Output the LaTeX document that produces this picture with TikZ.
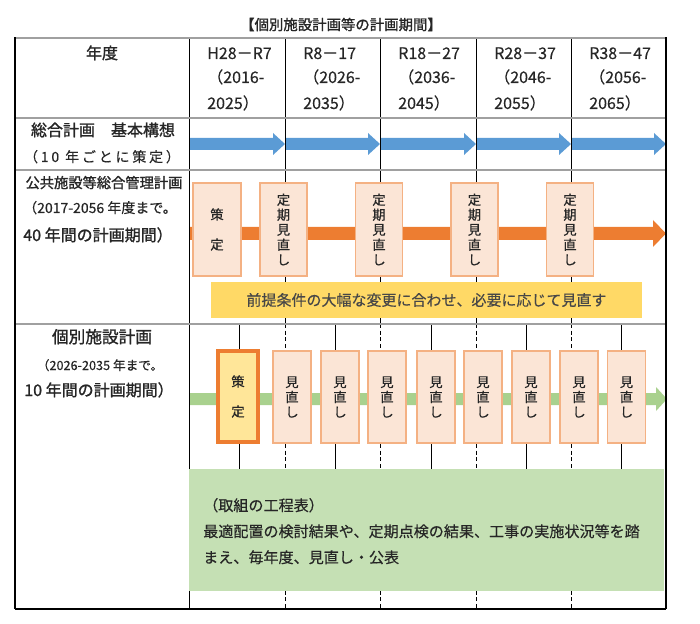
\documentclass[tikz,border=0pt]{standalone}
\usepackage{fontspec}
\setmainfont{Noto Sans CJK JP}[FakeBold=0.4]
\newfontfamily\titlefont{Noto Sans CJK JP}[FakeBold=1.3]
\definecolor{cblue}{HTML}{5B9BD5}
\definecolor{corange}{HTML}{ED7D31}
\definecolor{cgreen}{HTML}{A9D18E}
\definecolor{cgreenbox}{HTML}{C5E0B4}
\definecolor{cyellow}{HTML}{FFD966}
\definecolor{cpeach}{HTML}{FBE5D6}
\definecolor{cpeachline}{HTML}{F4B183}
\definecolor{cgold}{HTML}{FFE699}
\definecolor{ctext}{HTML}{262626}
\definecolor{cgrid}{HTML}{A0A0A0}
\begin{document}
\begin{tikzpicture}[x=0.75pt,y=-0.75pt,
  every node/.style={text=ctext},
  colline/.style={draw=black,line width=0.6pt},
  rowline/.style={draw=cgrid,line width=1.5pt},
  frameline/.style={draw=black,line width=0.9pt},
  peachbox/.style={draw=cpeachline,fill=cpeach,line width=0.8pt,inner sep=0pt,align=center},
  vtext/.style={font=\fontsize{10}{11.25}\selectfont},
  vtextwide/.style={font=\fontsize{10}{22.5}\selectfont},
  hdr/.style={anchor=base west,inner sep=0pt,font=\fontsize{12}{14}\selectfont},
  lefttxt/.style={anchor=base,inner sep=0pt},
  body/.style={anchor=base west,inner sep=0pt,font=\fontsize{11.3}{14}\selectfont}
]
\useasboundingbox (0,0) rectangle (700,624);

% column lines
\draw[colline] (189,38) -- (189,609);
\foreach \x in {285,380,476,571}{
  \draw[colline] (\x,38) -- (\x,324);
  \draw[colline,densely dashed] (\x,324) -- (\x,609);
}
\foreach \x in {239,335,431,526,621}{
  \draw[colline] (\x,324) -- (\x,469);
}

% blue arrows
\foreach \a/\b in {189/285,285/380,380/476,476/571,571/666}{
  \fill[cblue] (\a+1,138) -- (\b-12,138) -- (\b-12,133) -- (\b,144) -- (\b-12,155) -- (\b-12,150) -- (\a+1,150) -- cycle;
}
% orange arrow
\fill[corange] (190,227) -- (653,227) -- (653,220) -- (666,233.5) -- (653,247) -- (653,240) -- (190,240) -- cycle;
% green arrow
\fill[cgreen] (190,393) -- (656,393) -- (656,387) -- (667,399) -- (656,411) -- (656,405) -- (190,405) -- cycle;

% row 3 boxes
\node[peachbox,minimum width=36pt,minimum height=69.75pt,vtextwide] (s3) at (217,229.5) {策\\定};
\foreach \x/\n in {283.5/a,379/b,474.5/c,570/d}{
  \node[peachbox,minimum width=35.25pt,minimum height=69.75pt,vtext] (r3\n) at (\x,229.5) {定\\期\\見\\直\\し};
}
\node[fill=cyellow,minimum width=323.25pt,minimum height=27pt,inner sep=0pt,
  font=\fontsize{11.25}{14}\selectfont,text=ctext!85] (ybar) at (426.5,300)
  {前提条件の大幅な変更に合わせ、必要に応じて見直す};

% row 4 boxes
\node[draw=corange,fill=cgold,line width=3pt,minimum width=30pt,minimum height=68.25pt,inner sep=0pt,align=center,vtextwide] (s4) at (238,396.5) {策\\定};
\foreach \x/\n in {292/a,340/b,387/c,436/d,483/e,531/f,579/g,626.5/h}{
  \node[peachbox,minimum width=28.5pt,minimum height=69pt,vtext] (r4\n) at (\x,397) {見\\直\\し};
}
\node[fill=cgreenbox,minimum width=356.25pt,minimum height=91.5pt,inner sep=0pt] (gbox) at (426.5,530) {};
\node[body] (g1) at (203,511) {（取組の工程表）};
\node[body] (g2) at (203,537) {最適配置の検討結果や、定期点検の結果、工事の実施状況等を踏};
\node[body] (g3) at (203,563) {まえ、毎年度、見直し・公表};

% frame
\draw[rowline] (15,38) -- (666,38);
\foreach \y in {118,170,324}{ \draw[rowline] (15,\y) -- (666,\y); }
\draw[frameline] (15,609) -- (666,609);
\draw[frameline] (15,37.5) -- (15,609);
\draw[frameline] (666,37.5) -- (666,609);

% title
\node[anchor=base,inner sep=0pt,font=\fontsize{10.8}{13}\titlefont] (title) at (341,30) {【個別施設計画等の計画期間】};

% header
\node[lefttxt,font=\fontsize{12}{14}\titlefont] (nendo) at (102,59) {年度};
\foreach \x/\a/\b/\c [count=\i] in {189/H28－R7/（2016-/2025）,285/R8－17/（2026-/2035）,380/R18－27/（2036-/2045）,476/R28－37/（2046-/2055）,571/R38－47/（2056-/2065）}{
  \node[hdr] (h\i a) at (\x+18,59) {\a};
  \node[hdr] (h\i b) at (\x+18,83) {\b};
  \node[hdr] (h\i c) at (\x+18,109) {\c};
}

% left column
\node[lefttxt,font=\fontsize{12}{14}\titlefont] (l2a) at (103,136) {総合計画　基本構想};
\node[lefttxt,font=\fontsize{10.5}{14}\selectfont\addfontfeature{LetterSpace=20}] (l2b) at (102,162) {（10 年ごとに策定）};
\node[lefttxt,font=\fontsize{10.7}{14}\titlefont] (l3a) at (104,188) {公共施設等総合管理計画};
\node[lefttxt,font=\fontsize{10.5}{14}\selectfont] (l3b) at (100,213) {（2017-2056 年度まで。};
\node[lefttxt,font=\fontsize{12}{14}\titlefont] (l3c) at (98,241) {40 年間の計画期間）};
\node[lefttxt,font=\fontsize{12.5}{14}\titlefont] (l4a) at (102,343) {個別施設計画};
\node[lefttxt,font=\fontsize{9.5}{14}\selectfont] (l4b) at (100,370) {（2026-2035 年まで。};
\node[lefttxt,font=\fontsize{12}{14}\titlefont] (l4c) at (99,396) {10 年間の計画期間）};
\end{tikzpicture}
\end{document}
